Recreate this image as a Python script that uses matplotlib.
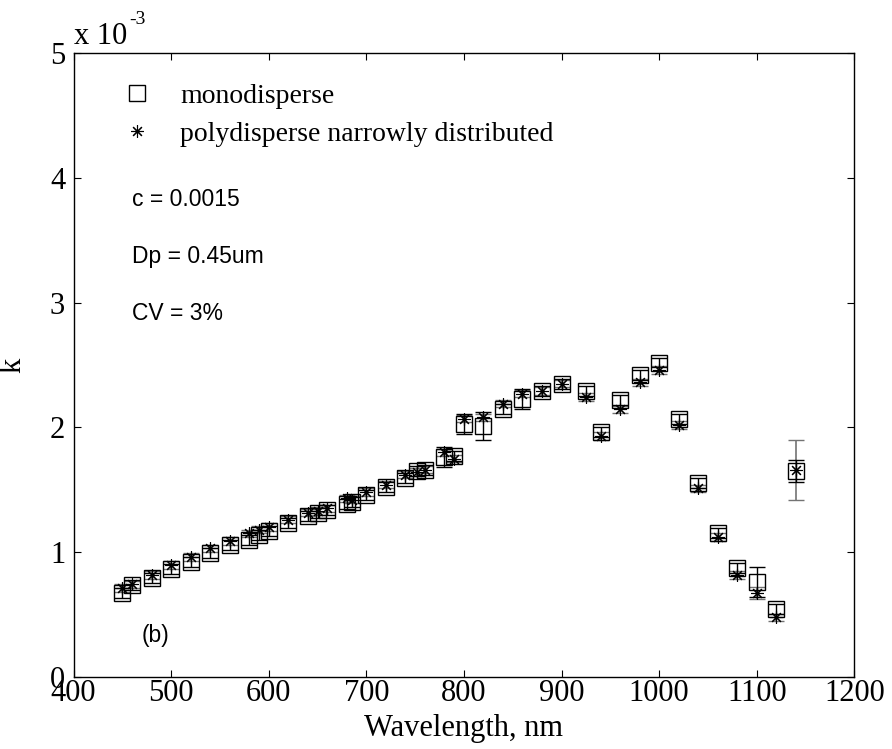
import matplotlib
matplotlib.use("Agg")
import matplotlib.pyplot as plt
import numpy as np

# wavelength (nm) and absorption index k (x 1e-3)
wl = [450, 460, 480, 500, 520, 540, 560, 580, 590, 600, 620, 640, 650, 660,
      680, 685, 700, 720, 740, 752, 760, 780, 790, 800, 820, 840, 860, 880,
      900, 925, 940, 960, 980, 1000, 1020, 1040, 1060, 1080, 1100, 1120, 1140]
k_mono = [0.67, 0.735, 0.79, 0.86, 0.92, 0.995, 1.056, 1.10, 1.14, 1.17, 1.23,
          1.285, 1.31, 1.34, 1.385, 1.40, 1.457, 1.52, 1.595, 1.65, 1.66, 1.76,
          1.77, 2.03, 2.01, 2.15, 2.23, 2.29, 2.35, 2.29, 1.96, 2.22, 2.42,
          2.52, 2.07, 1.55, 1.15, 0.87, 0.76, 0.54, 1.65]
err_mono = [0.04, 0.04, 0.04, 0.04, 0.04, 0.04, 0.04, 0.04, 0.04, 0.04, 0.04,
            0.04, 0.04, 0.04, 0.04, 0.04, 0.04, 0.04, 0.04, 0.04, 0.04, 0.08,
            0.04, 0.08, 0.11, 0.04, 0.08, 0.04, 0.04, 0.04, 0.04, 0.04, 0.04,
            0.04, 0.04, 0.04, 0.04, 0.04, 0.12, 0.04, 0.09]
k_poly = [0.71, 0.74, 0.815, 0.895, 0.96, 1.03, 1.09, 1.15, 1.18, 1.20, 1.26,
          1.315, 1.33, 1.35, 1.43, 1.42, 1.48, 1.54, 1.62, 1.64, 1.66, 1.80,
          1.75, 2.07, 2.08, 2.19, 2.27, 2.29, 2.35, 2.245, 1.93, 2.145, 2.36,
          2.46, 2.02, 1.51, 1.12, 0.815, 0.67, 0.476, 1.66]
err_poly = [0.03, 0.03, 0.03, 0.03, 0.03, 0.03, 0.03, 0.03, 0.03, 0.03, 0.03,
            0.03, 0.03, 0.03, 0.03, 0.03, 0.03, 0.03, 0.03, 0.03, 0.03, 0.03,
            0.03, 0.03, 0.03, 0.03, 0.03, 0.03, 0.03, 0.03, 0.03, 0.03, 0.03,
            0.03, 0.03, 0.03, 0.03, 0.03, 0.05, 0.03, 0.24]
SCALE = 1e-3

SERIF = "Liberation Serif"
SANS = "Liberation Sans"

fig = plt.figure(figsize=(8.92, 7.49), dpi=100)
ax = fig.add_axes([73.5 / 892, 72.3 / 749, 780.8 / 892, 623.4 / 749])

x = np.array(wl)
ax.errorbar(x, np.array(k_poly) * SCALE, yerr=np.array(err_poly) * SCALE,
            fmt="none", ecolor="0.45", elinewidth=1.2, capsize=5.5)
ax.errorbar(x, np.array(k_mono) * SCALE, yerr=np.array(err_mono) * SCALE,
            fmt="none", ecolor="black", elinewidth=1.0, capsize=5.5)
ax.plot(x, np.array(k_mono) * SCALE, ls="none", marker="s", ms=11,
        mfc="none", mec="black", mew=1.0, label="monodisperse")
ax.plot(x, np.array(k_poly) * SCALE, ls="none", marker=(8, 2, 0), ms=9,
        color="black", mew=0.8, label="polydisperse narrowly distributed")

ax.set_xlim(400, 1200)
ax.set_ylim(0, 5e-3)
ax.set_xticks(np.arange(400, 1201, 100))
ax.set_yticks(np.arange(0, 5.01e-3, 1e-3))
ax.set_yticklabels([str(v) for v in range(6)])
ax.tick_params(direction="in", top=True, right=True, length=5, width=0.8,
               labelsize=22)
ax.tick_params(axis="x", pad=2)
ax.tick_params(axis="y", pad=6)
for lab in ax.get_xticklabels() + ax.get_yticklabels():
    lab.set_fontfamily(SERIF)
for sp in ax.spines.values():
    sp.set_linewidth(1.0)

ax.set_xlabel("Wavelength, nm", fontsize=22, family=SERIF, labelpad=4)
ax.set_ylabel("k", fontsize=22, family=SERIF, labelpad=16)

# MATLAB-style exponent above the y axis
ax.text(0.0, 1.003, "x 10", transform=ax.transAxes, fontsize=22,
        family=SERIF, ha="left", va="bottom")
ax.text(0.071, 1.04, "-3", transform=ax.transAxes, fontsize=14,
        family=SERIF, ha="left", va="bottom")

ax.legend(loc="upper left", bbox_to_anchor=(0.063, 0.952), frameon=False,
          prop={"family": SERIF, "size": 20}, handlelength=1.0,
          handletextpad=1.06, borderpad=0, borderaxespad=0, labelspacing=0.46)

ax.text(459.6, 3.83e-3, "c = 0.0015", fontsize=16.5, family=SANS, va="center")
ax.text(459.6, 3.37e-3, "Dp = 0.45um", fontsize=16.5, family=SANS, va="center")
ax.text(459.6, 2.91e-3, "CV = 3%", fontsize=16.5, family=SANS, va="center")
ax.text(470, 0.33e-3, "(b)", fontsize=16.5, family=SANS, va="center")

fig.savefig("out.png", dpi=100)
